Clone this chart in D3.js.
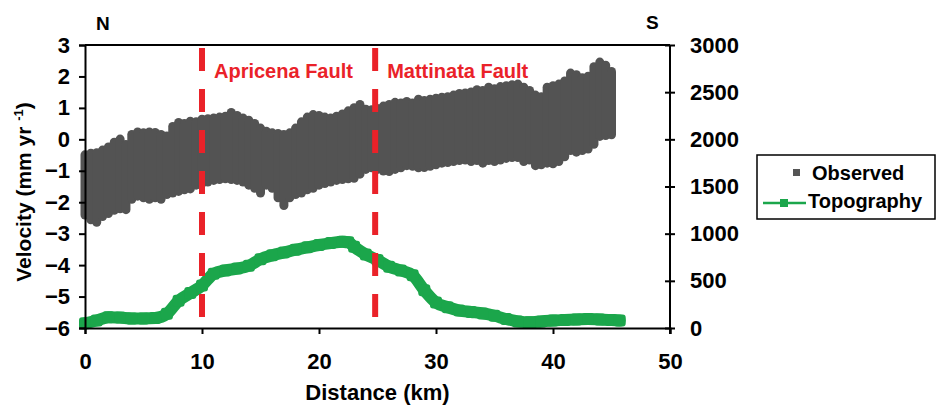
<!DOCTYPE html>
<html lang="en">
  <head>
    <meta charset="UTF-8" />
    <title>Velocity profile</title>
    <script src="https://cdn.jsdelivr.net/npm/d3@7"></script>
    <style>
      html,
      body {
        margin: 0;
        padding: 0;
        background: #fff;
      }
      svg {
        display: block;
        font-family: 'Liberation Sans', Arial, sans-serif;
        font-weight: bold;
      }
      .axis path,
      .axis line {
        stroke: #000;
        stroke-width: 2;
      }
      .axis text {
        font-family: 'Liberation Sans', Arial, sans-serif;
        font-weight: bold;
        font-size: 22px;
        fill: #000;
      }
    </style>
  </head>
  <body>
    <svg width="937" height="412"></svg>
    <script>
      // observed velocity band: distance (km), upper and lower edge (mm/yr)
      const obsKm = d3.range(0, 45.01, 0.5);
      const obsUpper = [
        -0.35, -0.3, -0.28, -0.2, -0.1, 0.05, 0.15, -0.02, 0.3, 0.38,
        0.35, 0.38, 0.36, 0.3, 0.25, 0.55, 0.68, 0.65, 0.72, 0.7,
        0.78, 0.8, 0.82, 0.85, 0.88, 1.0, 0.9, 0.82, 0.75, 0.65,
        0.5, 0.4, 0.35, 0.33, 0.3, 0.35, 0.5, 0.7, 0.85, 0.93,
        0.9, 0.85, 0.82, 0.88, 0.95, 1.05, 1.15, 1.25, 1.1, 1.08,
        1.12, 1.2, 1.25, 1.32, 1.3, 1.35, 1.3, 1.42, 1.38, 1.42,
        1.45, 1.48, 1.5, 1.55, 1.6, 1.62, 1.65, 1.72, 1.7, 1.8,
        1.75, 1.82, 1.85, 1.88, 1.9, 1.8, 1.7, 1.55, 1.5, 1.8,
        1.85, 1.9, 2.0, 2.25, 2.2, 2.1, 2.15, 2.45, 2.6, 2.5,
        2.3
      ];
      const obsLower = [
        -2.55, -2.7, -2.78, -2.6, -2.5, -2.4, -2.35, -2.38, -2.05, -1.95,
        -2.0, -2.05, -2.0, -2.05, -1.9, -1.85, -1.8, -1.75, -1.72, -1.6,
        -1.55, -1.5, -1.45, -1.42, -1.4, -1.42, -1.45, -1.5, -1.6, -1.7,
        -1.85, -1.6, -1.7, -2.0, -2.25, -2.0, -1.9, -1.85, -1.75, -1.7,
        -1.6, -1.55, -1.5, -1.45, -1.42, -1.4, -1.38, -1.25, -1.1, -1.05,
        -1.1, -1.15, -1.17, -1.1, -1.05, -0.98, -1.0, -1.05, -1.04, -1.0,
        -0.95, -0.9, -0.88, -0.85, -0.82, -0.8, -0.85, -0.82, -0.9, -0.82,
        -0.85, -0.8, -0.75, -0.72, -0.72, -0.85, -0.8, -0.98, -0.95, -0.9,
        -0.92, -0.85, -0.7, -0.5, -0.55, -0.5, -0.45, -0.3, -0.05, -0.02,
        0.0
      ];

      // topography: distance (km), elevation (m)
      const topoKm = [
        0, 1, 2, 3, 4, 5, 6, 7, 8, 9, 10, 11, 12, 13, 14, 15, 16, 17, 18, 19,
        20, 21, 22, 22.5, 23, 24, 25, 26, 27, 28, 29, 30, 31, 32, 33, 34, 35,
        36, 37, 38, 39, 40, 41, 42, 43, 44, 45, 45.7
      ];
      const topoElev = [
        50, 80, 115, 110, 100, 100, 105, 150, 290, 370, 450, 575, 610, 630,
        660, 730, 770, 800, 830, 855, 880, 900, 915, 910, 860, 780, 720, 650,
        610, 560, 400, 270, 220, 185, 170, 155, 130, 95, 70, 60, 70, 80, 85,
        90, 95, 90, 85, 80
      ];

      // faults
      const faultKm = [10, 24.8];
      const faultNames = ['Apricena Fault', 'Mattinata Fault'];

      const xTicks = [0, 10, 20, 30, 40, 50];
      const yLeftTicks = [-6, -5, -4, -3, -2, -1, 0, 1, 2, 3];
      const yRightTicks = [0, 500, 1000, 1500, 2000, 2500, 3000];

      const plotL = 85,
        plotT = 45,
        plotR = 670,
        plotB = 328;

      const svg = d3.select('svg');

      const x = d3.scaleLinear().domain([0, 50]).range([plotL, plotR]);
      const yL = d3.scaleLinear().domain([-6, 3]).range([plotB, plotT]);
      const yR = d3.scaleLinear().domain([0, 3000]).range([plotB, plotT]);

      // top frame line
      svg
        .append('line')
        .attr('x1', plotL)
        .attr('x2', plotR)
        .attr('y1', plotT)
        .attr('y2', plotT)
        .attr('stroke', '#000')
        .attr('stroke-width', 2);

      // observed band, one error bar per point
      svg
        .append('g')
        .selectAll('rect')
        .data(obsKm)
        .enter()
        .append('rect')
        .attr('x', d => x(d) - 4.5)
        .attr('width', 9)
        .attr('y', (d, i) => yL(obsUpper[i]))
        .attr('height', (d, i) => yL(obsLower[i]) - yL(obsUpper[i]))
        .attr('rx', 4.5)
        .attr('fill', '#535353');

      // topography
      const topo = topoKm.map((d, i) => [d, topoElev[i]]);
      svg
        .append('path')
        .datum(topo)
        .attr('fill', 'none')
        .attr('stroke', '#1ba64b')
        .attr('stroke-width', 12)
        .attr('stroke-linejoin', 'round')
        .attr('stroke-linecap', 'round')
        .attr('d', d3.line().x(d => x(d[0])).y(d => yR(d[1])).curve(d3.curveMonotoneX));

      svg
        .append('g')
        .selectAll('rect')
        .data(topo)
        .enter()
        .append('rect')
        .attr('x', d => x(d[0]) - 6)
        .attr('y', d => yR(d[1]) - 6)
        .attr('width', 12)
        .attr('height', 12)
        .attr('rx', 3)
        .attr('fill', '#1ba64b');

      // axes
      svg
        .append('g')
        .attr('class', 'axis')
        .attr('transform', `translate(${plotL},0)`)
        .call(d3.axisLeft(yL).tickValues(yLeftTicks).tickSizeOuter(0).tickSize(6).tickPadding(9));

      svg
        .append('g')
        .attr('class', 'axis')
        .attr('transform', `translate(0,${plotB})`)
        .call(d3.axisBottom(x).tickValues(xTicks).tickSizeOuter(0).tickSize(6).tickPadding(19));

      const rAxis = svg
        .append('g')
        .attr('class', 'axis')
        .attr('transform', `translate(${plotR},0)`)
        .call(
          d3
            .axisRight(yR)
            .tickValues(yRightTicks)
            .tickFormat(d3.format('d'))
            .tickSizeOuter(0)
            .tickSize(5)
            .tickPadding(15)
        );
      rAxis.selectAll('.tick line').attr('x1', -5);
      rAxis.select('.domain').attr('d', `M0,${plotT}V${plotB + 6}`);

      // fault lines and labels
      svg
        .append('g')
        .selectAll('line')
        .data(faultKm)
        .enter()
        .append('line')
        .attr('x1', d => x(d))
        .attr('x2', d => x(d))
        .attr('y1', 48)
        .attr('y2', 320)
        .attr('stroke', '#ea2229')
        .attr('stroke-width', 6)
        .attr('stroke-dasharray', '23,18');

      svg
        .append('g')
        .selectAll('text')
        .data(faultKm)
        .enter()
        .append('text')
        .attr('x', d => x(d) + 12)
        .attr('y', 78)
        .attr('fill', '#ea2229')
        .attr('font-size', 20)
        .text((d, i) => faultNames[i]);

      // N / S
      svg.append('text').attr('x', 96).attr('y', 30).attr('font-size', 19).text('N');
      svg.append('text').attr('x', 646).attr('y', 29).attr('font-size', 19).text('S');

      // axis titles
      svg
        .append('text')
        .attr('x', (plotL + plotR) / 2)
        .attr('y', 400)
        .attr('text-anchor', 'middle')
        .attr('font-size', 22)
        .text('Distance (km)');

      const yt = svg
        .append('text')
        .attr('transform', 'translate(31,192) rotate(-90)')
        .attr('text-anchor', 'middle')
        .attr('font-size', 21);
      yt.append('tspan').text('Velocity (mm yr ');
      yt.append('tspan').attr('font-size', 13).attr('dy', -8).text('-1');
      yt.append('tspan').attr('dy', 8).text(')');

      // legend
      const lg = svg.append('g');
      lg.append('rect')
        .attr('x', 757)
        .attr('y', 155)
        .attr('width', 178)
        .attr('height', 64)
        .attr('fill', '#fff')
        .attr('stroke', '#000')
        .attr('stroke-width', 1.5);
      lg.append('rect').attr('x', 793).attr('y', 169).attr('width', 7).attr('height', 7).attr('fill', '#555555');
      lg.append('text').attr('x', 812).attr('y', 180).attr('font-size', 20).text('Observed');
      lg.append('line')
        .attr('x1', 763)
        .attr('x2', 806)
        .attr('y1', 203)
        .attr('y2', 203)
        .attr('stroke', '#1ba64b')
        .attr('stroke-width', 2.5);
      lg.append('rect').attr('x', 780).attr('y', 199).attr('width', 8).attr('height', 8).attr('fill', '#1ba64b');
      lg.append('text').attr('x', 808).attr('y', 208).attr('font-size', 20).text('Topography');
    </script>
  </body>
</html>
